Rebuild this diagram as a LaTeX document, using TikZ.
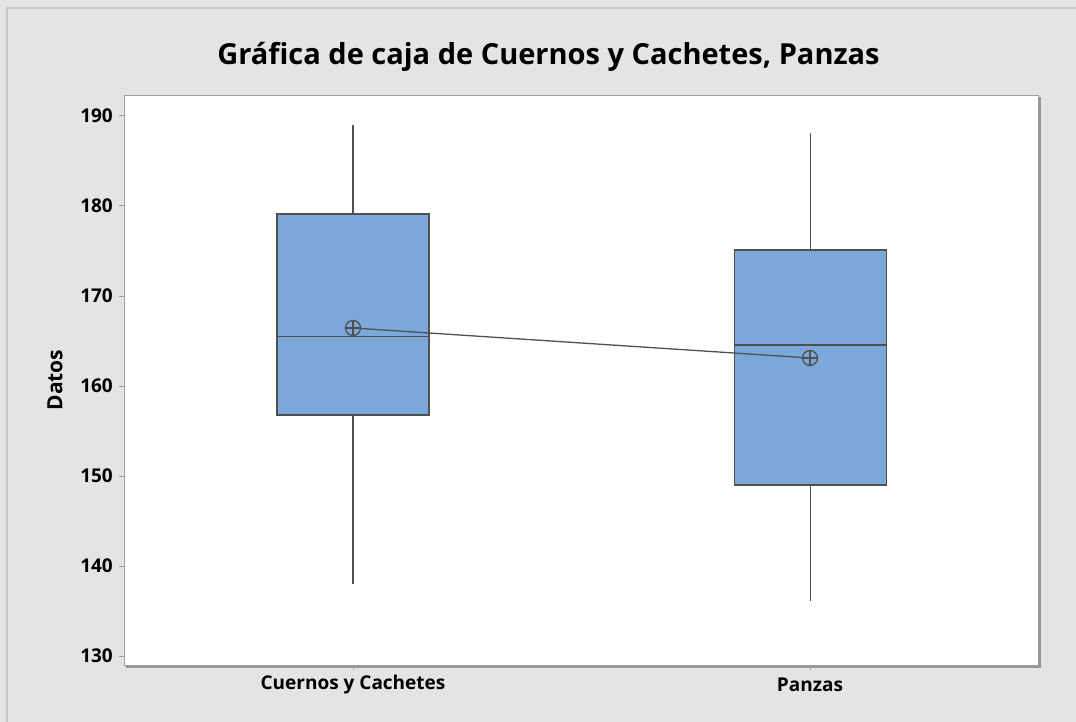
\documentclass[tikz,border=0pt]{standalone}
\usepackage{fontspec}
\setmainfont{Open Sans}
\definecolor{bggray}{RGB}{228,228,228}
\definecolor{bordergray}{RGB}{200,200,200}
\definecolor{axisgray}{RGB}{160,160,160}
\definecolor{shadowgray}{RGB}{150,150,150}
\definecolor{boxfill}{RGB}{123,167,217}
\definecolor{linegray}{RGB}{80,80,80}
\begin{document}
\begin{tikzpicture}[x=1pt,y=-1pt,
  boxstyle/.style={draw=linegray,fill=boxfill,line width=1.5pt,rectangle,inner sep=0pt,minimum width=152pt},
  whisk/.style={draw=linegray,line width=1.5pt},
  medline/.style={draw=linegray,line width=1.5pt},
  meanmark/.style={circle,draw=linegray,line width=1.3pt,minimum size=15pt,inner sep=0pt,
    path picture={\draw[linegray,line width=1.3pt] (path picture bounding box.north) -- (path picture bounding box.south)
      (path picture bounding box.west) -- (path picture bounding box.east);}},
  ticklab/.style={font=\fontsize{19}{22}\selectfont\bfseries,inner sep=0pt},
  tickmark/.style={draw=axisgray,line width=1pt}]
\useasboundingbox (0,0) rectangle (1076,722);
% background
\fill[bggray] (0,0) rectangle (1076,722);
\draw[bordergray,line width=2pt] (7,730) -- (7,8) -- (1085,8);
% plot area with shadow
\draw[shadowgray,line width=2pt] (1040,97) -- (1040,667) -- (126,667);
\node[draw=axisgray,fill=white,line width=1pt,rectangle,inner sep=0pt,anchor=north west,minimum width=914pt,minimum height=570pt] (plot) at (124,95) {};
% title
\node[font=\fontsize{29}{34}\selectfont\bfseries,inner sep=0pt] (title) at (548.5,57) {Gráfica de caja de Cuernos y Cachetes, Panzas};
% y axis label
\node[font=\fontsize{21}{24}\selectfont\bfseries,rotate=90,inner sep=0pt] (ylab) at (55,380) {Datos};
% y ticks
\foreach \v/\yy in {130/656,140/566,150/476,160/386,170/296,180/206,190/116}{
  \coordinate (t\v) at (119,\yy);
  \draw[tickmark] (t\v) -- (124,\yy);
  \node[ticklab,anchor=east] (l\v) at (113,\yy) {\v};
}
% x ticks
\coordinate (xa) at (353,665);
\coordinate (xb) at (810,665);
\draw[tickmark] (xa) -- ++(0,5);
\draw[tickmark] (xb) -- ++(0,5);
\node[ticklab] (xla) at (353,685) {Cuernos y Cachetes};
\node[ticklab] (xlb) at (810,685) {Panzas};
% box 1
\node[boxstyle,minimum height=201pt] (b1) at (353,314.5) {};
\coordinate (w1t) at (353,125);
\coordinate (w1b) at (353,584);
\draw[whisk] (b1.north) -- (w1t);
\draw[whisk] (b1.south) -- (w1b);
\draw[medline] (b1.west |- 0,336.5) coordinate (m1l) -- (b1.east |- 0,336.5) coordinate (m1r);
% box 2
\node[boxstyle,minimum height=235pt] (b2) at (810.5,367.5) {};
\coordinate (w2t) at (810.5,133);
\coordinate (w2b) at (810.5,601);
\draw[whisk] (b2.north) -- (w2t);
\draw[whisk] (b2.south) -- (w2b);
\draw[medline] (b2.west |- 0,345) coordinate (m2l) -- (b2.east |- 0,345) coordinate (m2r);
% means
\node[meanmark] (mean1) at (353,328) {};
\node[meanmark] (mean2) at (810,358) {};
\draw[linegray,line width=1.3pt] (mean1) -- (mean2);
\end{tikzpicture}
\end{document}
